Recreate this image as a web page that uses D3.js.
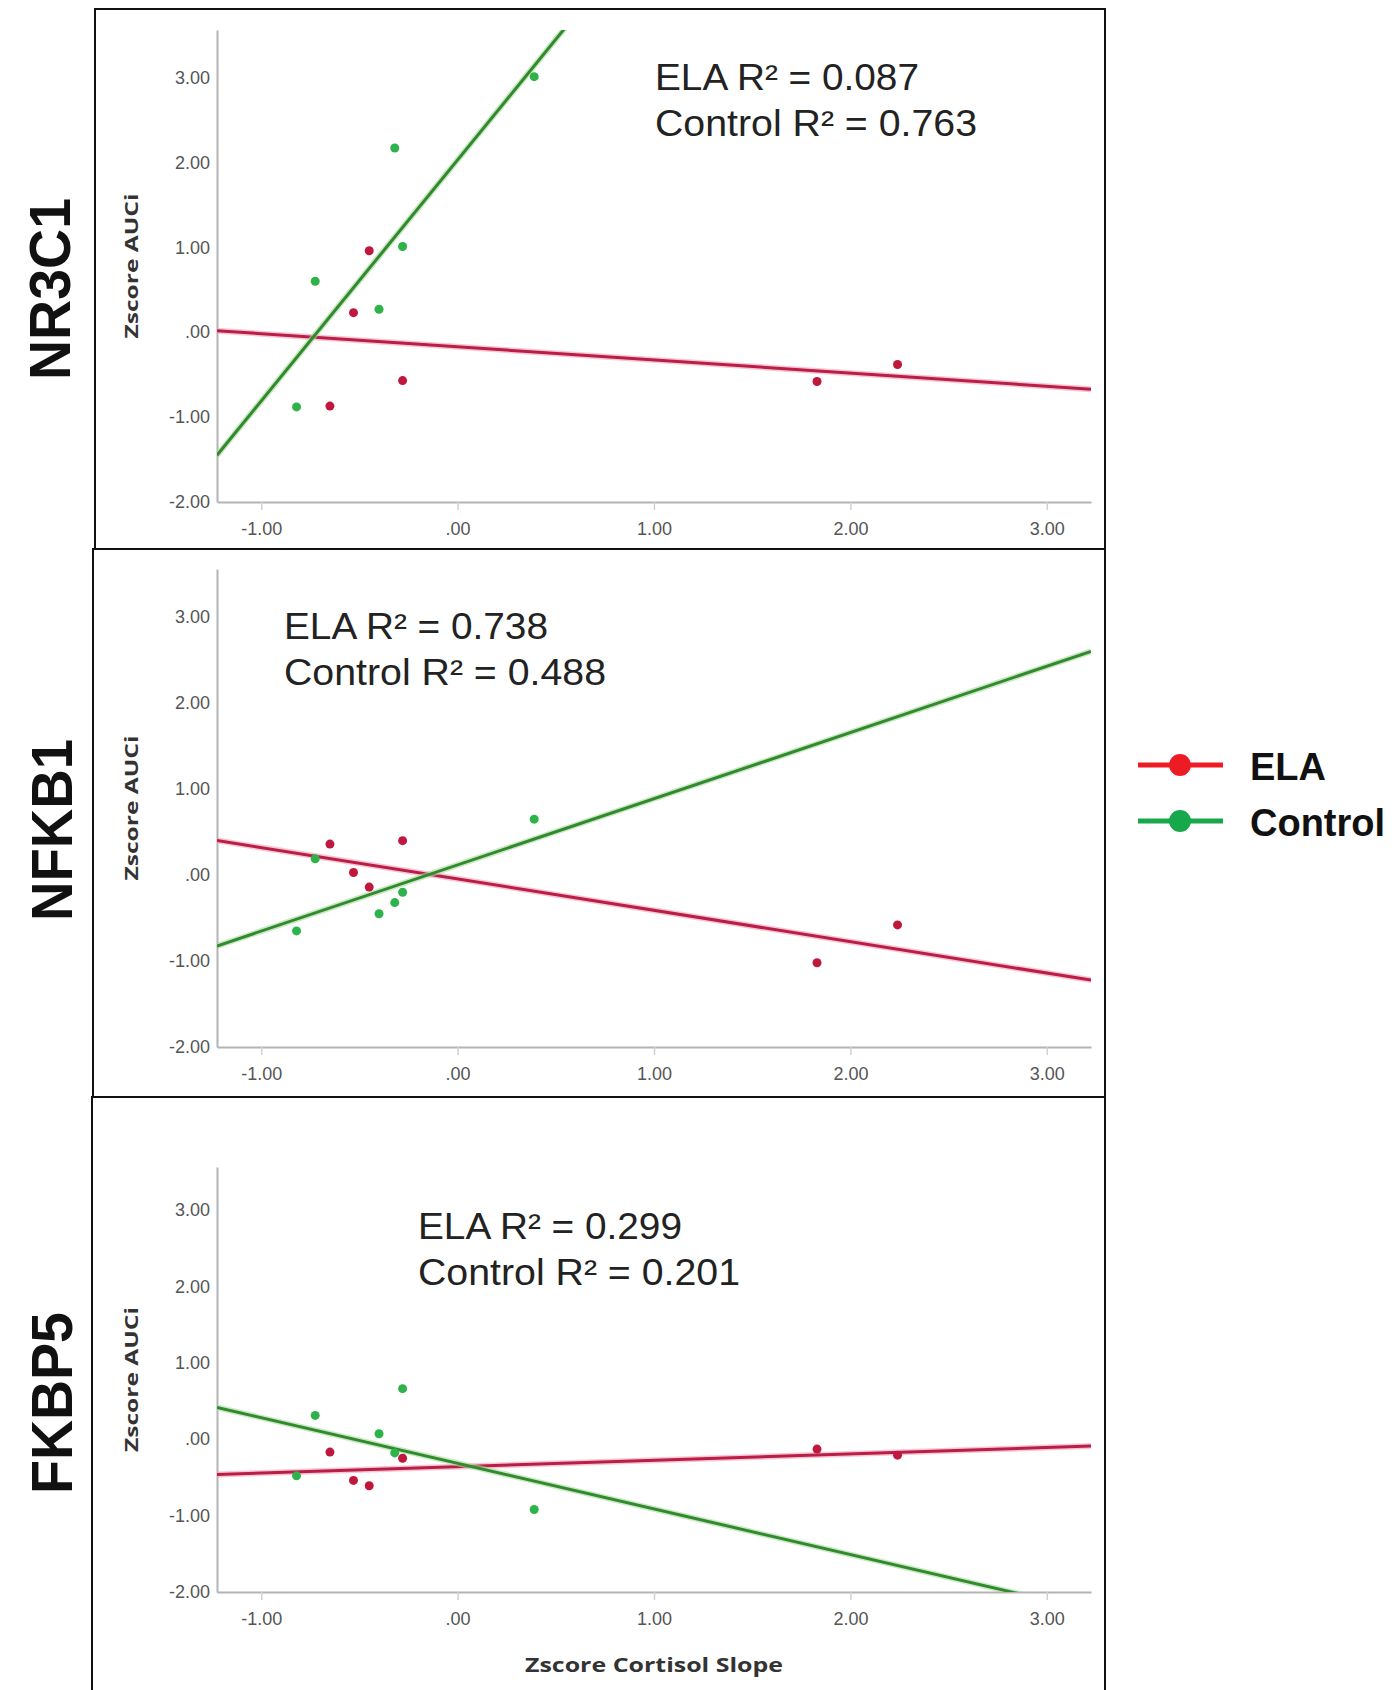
<!DOCTYPE html>
<html>
<head>
<meta charset="utf-8">
<script src="https://cdn.jsdelivr.net/npm/d3@7"></script>
<style>
  body { margin: 0; background: #fff; }
  svg { display: block; }
</style>
</head>
<body>
<script>
// genes (one panel each)
const genes = ["NR3C1", "NFKB1", "FKBP5"];

// Zscore cortisol slope per subject (same subjects in every panel)
const elaSlope = [-0.45, -0.53, -0.28, -0.65, 1.83, 2.24];
const controlSlope = [0.39, -0.32, -0.28, -0.725, -0.40, -0.82];

// Zscore AUCi per gene
const elaAUCi = [
  [0.96, 0.23, -0.57, -0.87, -0.58, -0.38],
  [-0.14, 0.03, 0.40, 0.36, -1.02, -0.58],
  [-0.61, -0.54, -0.25, -0.17, -0.13, -0.21]
];
const controlAUCi = [
  [3.01, 2.17, 1.01, 0.60, 0.27, -0.88],
  [0.65, -0.32, -0.20, 0.19, -0.45, -0.65],
  [-0.92, -0.18, 0.66, 0.31, 0.07, -0.48]
];

// fit lines (intercept, slope)
const elaIntercept = [-0.172, -0.045, -0.36];
const elaCoef = [-0.155, -0.365, 0.0835];
const controlIntercept = [2.03, 0.118, -0.316];
const controlCoef = [2.84, 0.77, -0.597];

const elaR2 = ["0.087", "0.738", "0.299"];
const controlR2 = ["0.763", "0.488", "0.201"];

const xTicks = [-1, 0, 1, 2, 3];
const yTicks = [-2, -1, 0, 1, 2, 3];
const xDomain = [-1.225, 3.225];
const yDomain = [-2, 3.56];

const W = 1399, H = 1690;

// layout of each panel (page pixels)
const panels = [
  { box: [95, 9, 1105, 549], plot: [217, 30, 1091, 502], note: [655, 90], title: [70, 289] },
  { box: [93, 549, 1105, 1097], plot: [217, 569, 1091, 1047], note: [284, 639], title: [72, 830] },
  { box: [92, 1097, 1105, 1702], plot: [217, 1167, 1091, 1592], note: [418, 1239], title: [72, 1403] }
];

const fmt = d => d === 0 ? ".00" : (d < 0 ? "-" : "") + d3.format(".2f")(Math.abs(d));

const svg = d3.select("body").append("svg")
  .attr("width", W)
  .attr("height", H);

panels.forEach((p, i) => {
  const [bx0, by0, bx1, by1] = p.box;
  const [px0, py0, px1, py1] = p.plot;

  svg.append("rect")
    .attr("x", bx0).attr("y", by0)
    .attr("width", bx1 - bx0).attr("height", by1 - by0)
    .attr("fill", "none")
    .attr("stroke", "#111")
    .attr("stroke-width", 2);

  const x = d3.scaleLinear().domain(xDomain).range([px0, px1]);
  const y = d3.scaleLinear().domain(yDomain).range([py1, py0]);

  // y axis
  const ya = svg.append("g")
    .attr("transform", `translate(${px0},0)`)
    .call(d3.axisLeft(y).tickValues(yTicks).tickFormat(fmt).tickSize(0).tickSizeOuter(0).tickPadding(7));
  ya.select(".domain").attr("stroke", "#b4b4b4").attr("stroke-width", 2);
  ya.selectAll("text")
    .attr("font-family", "Liberation Sans, Arial, sans-serif")
    .attr("font-size", 18)
    .attr("fill", "#555");

  // x axis
  const xa = svg.append("g")
    .attr("transform", `translate(0,${py1})`)
    .call(d3.axisBottom(x).tickValues(xTicks).tickFormat(fmt).tickSize(8).tickSizeOuter(0).tickPadding(12));
  xa.select(".domain").attr("stroke", "#b4b4b4").attr("stroke-width", 2);
  xa.selectAll(".tick line").attr("stroke", "#d0d0d0").attr("stroke-width", 1.5);
  xa.selectAll("text")
    .attr("font-family", "Liberation Sans, Arial, sans-serif")
    .attr("font-size", 18)
    .attr("fill", "#555");

  // y axis title
  svg.append("text")
    .attr("transform", `translate(138,${(py0 + py1) / 2}) rotate(-90)`)
    .attr("text-anchor", "middle")
    .attr("font-family", "Open Sans, DejaVu Sans, sans-serif")
    .attr("font-weight", "bold")
    .attr("font-size", 18)
    .attr("fill", "#333")
    .attr("textLength", 145)
    .attr("lengthAdjust", "spacingAndGlyphs")
    .text("Zscore AUCi");

  // gene title
  svg.append("text")
    .attr("transform", `translate(${p.title[0]},${p.title[1]}) rotate(-90)`)
    .attr("text-anchor", "middle")
    .attr("font-family", "Liberation Sans, Arial, sans-serif")
    .attr("font-weight", "bold")
    .attr("font-size", 58)
    .attr("fill", "#111")
    .attr("textLength", 182)
    .attr("lengthAdjust", "spacingAndGlyphs")
    .text(genes[i]);

  // clip for fit lines
  const clipId = "clip" + i;
  svg.append("clipPath").attr("id", clipId)
    .append("rect")
    .attr("x", px0).attr("y", py0)
    .attr("width", px1 - px0).attr("height", py1 - py0);

  const fits = [
    { a: elaIntercept[i], b: elaCoef[i], color: "#b81e48", halo: "#f4a0b4" },
    { a: controlIntercept[i], b: controlCoef[i], color: "#318a2c", halo: "#a8d8a0" }
  ];
  const lineGen = d3.line().x(d => x(d[0])).y(d => y(d[1]));
  const lg = svg.append("g").attr("clip-path", `url(#${clipId})`);
  fits.forEach(f => {
    const pts = xDomain.map(v => [v, f.a + f.b * v]);
    lg.append("path")
      .attr("d", lineGen(pts))
      .attr("stroke", f.halo)
      .attr("stroke-width", 6)
      .attr("stroke-opacity", 0.6)
      .attr("fill", "none");
    lg.append("path")
      .attr("d", lineGen(pts))
      .attr("stroke", f.color)
      .attr("stroke-width", 3)
      .attr("fill", "none");
  });

  // points
  const g = svg.append("g");
  g.selectAll(".ela")
    .data(elaSlope.map((v, j) => [v, elaAUCi[i][j]]))
    .enter().append("circle")
    .attr("class", "ela")
    .attr("cx", d => x(d[0]))
    .attr("cy", d => y(d[1]))
    .attr("r", 4.5)
    .attr("fill", "#c0173d");
  g.selectAll(".ctl")
    .data(controlSlope.map((v, j) => [v, controlAUCi[i][j]]))
    .enter().append("circle")
    .attr("class", "ctl")
    .attr("cx", d => x(d[0]))
    .attr("cy", d => y(d[1]))
    .attr("r", 4.5)
    .attr("fill", "#2eb34a");

  // R² notes
  const note = svg.append("g")
    .attr("font-family", "Liberation Sans, Arial, sans-serif")
    .attr("font-size", 36)
    .attr("fill", "#222");
  note.append("text")
    .attr("x", p.note[0]).attr("y", p.note[1])
    .attr("textLength", 264)
    .attr("lengthAdjust", "spacingAndGlyphs")
    .text(`ELA R² = ${elaR2[i]}`);
  note.append("text")
    .attr("x", p.note[0]).attr("y", p.note[1] + 46)
    .attr("textLength", 322)
    .attr("lengthAdjust", "spacingAndGlyphs")
    .text(`Control R² = ${controlR2[i]}`);
});

// x axis title (bottom panel only)
svg.append("text")
  .attr("x", 654).attr("y", 1672)
  .attr("text-anchor", "middle")
  .attr("font-family", "Open Sans, DejaVu Sans, sans-serif")
  .attr("font-weight", "bold")
  .attr("font-size", 20)
  .attr("fill", "#333")
  .attr("textLength", 258)
  .attr("lengthAdjust", "spacingAndGlyphs")
  .text("Zscore Cortisol Slope");

// legend
const legendItems = ["ELA", "Control"];
const legendColors = ["#ed1c24", "#17a84b"];
const leg = svg.append("g").selectAll("g")
  .data(legendItems)
  .enter().append("g")
  .attr("transform", (d, i) => `translate(0,${765 + i * 56})`);
leg.append("line")
  .attr("x1", 1138).attr("x2", 1223)
  .attr("stroke", (d, i) => legendColors[i])
  .attr("stroke-width", 5);
leg.append("circle")
  .attr("cx", 1180).attr("r", 11)
  .attr("fill", (d, i) => legendColors[i]);
leg.append("text")
  .attr("x", 1250).attr("y", 15)
  .attr("font-family", "Liberation Sans, Arial, sans-serif")
  .attr("font-weight", "bold")
  .attr("font-size", 38)
  .attr("fill", "#111")
  .text(d => d);
</script>
</body>
</html>
